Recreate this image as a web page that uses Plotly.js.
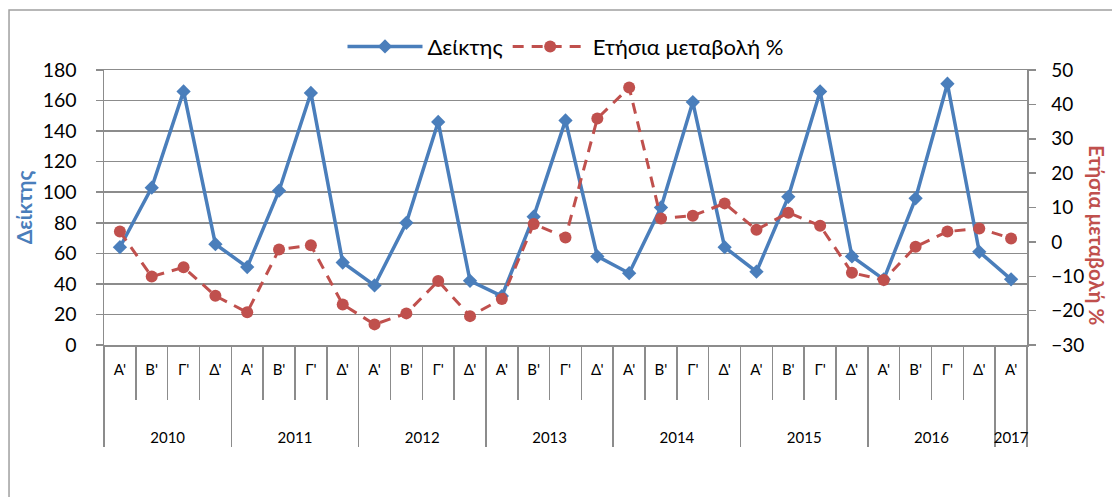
<!DOCTYPE html>
<html>
<head>
<meta charset="utf-8">
<script src="https://cdn.plot.ly/plotly-3.0.1.min.js"></script>
<style>html,body{margin:0;padding:0;background:#fff;}#chart{width:1112px;height:497px;}</style>
</head>
<body>
<div id="chart"></div>
<script>
var years = ['2010','2010','2010','2010','2011','2011','2011','2011','2012','2012','2012','2012',
             '2013','2013','2013','2013','2014','2014','2014','2014','2015','2015','2015','2015',
             '2016','2016','2016','2016','2017'];
var quarters = ["Α'","Β'","Γ'","Δ'","Α'","Β'","Γ'","Δ'","Α'","Β'","Γ'","Δ'",
                "Α'","Β'","Γ'","Δ'","Α'","Β'","Γ'","Δ'","Α'","Β'","Γ'","Δ'",
                "Α'","Β'","Γ'","Δ'","Α'"];
var indexValues = [64, 103, 166, 66, 51, 101, 165, 54, 39, 80, 146, 42,
                   32, 84, 147, 58, 47, 90, 159, 64, 48, 97, 166, 58,
                   43, 96, 171, 61, 43];
var annualChange = [3.0, -10.1, -7.4, -15.7, -20.5, -2.2, -1.0, -18.2, -24.0, -20.8, -11.4, -21.6,
                    -16.6, 5.2, 1.3, 35.9, 44.9, 6.8, 7.6, 11.2, 3.5, 8.5, 4.7, -9.0,
                    -11.1, -1.4, 3.0, 3.9, 1.0];

var FONT = 'Lato, "Open Sans", sans-serif';
var BLUE = '#4A7EBB';
var RED = '#C0504D';
var GRID = '#8c8c8c';

// year labels pushed down below the quarter labels
var yearCats = years.map(function (y) { return '<br><br><br>' + y; });

var traces = [
  {
    x: [yearCats, quarters], y: indexValues, name: 'Δείκτης', type: 'scatter', mode: 'lines+markers',
    line: {color: BLUE, width: 3.5},
    marker: {symbol: 'diamond', size: 11, color: BLUE},
    yaxis: 'y'
  },
  {
    x: [yearCats, quarters], y: annualChange, name: 'Ετήσια μεταβολή %', type: 'scatter', mode: 'lines+markers',
    line: {color: RED, width: 3, dash: '11px,8px'},
    marker: {symbol: 'circle', size: 12, color: RED},
    yaxis: 'y2'
  }
];

var layout = {
  width: 1112, height: 497,
  margin: {l: 104, r: 85, t: 70, b: 152},
  paper_bgcolor: '#fff', plot_bgcolor: '#fff',
  font: {family: FONT, color: '#000'},
  showlegend: true,
  legend: {
    orientation: 'h', x: 0.5, xanchor: 'center', y: 1.085, yanchor: 'middle',
    font: {family: FONT, size: 22, color: '#000'}, itemwidth: 75, bgcolor: 'rgba(0,0,0,0)'
  },
  xaxis: {
    type: 'multicategory', range: [-0.5, 28.5], autorange: false,
    showline: true, linecolor: GRID, linewidth: 1.5, mirror: true,
    ticks: 'outside', tickson: 'boundaries', ticklen: 53, tickcolor: GRID, tickwidth: 1.5,
    ticklabelstandoff: 10,
    showdividers: true, dividercolor: GRID, dividerwidth: 1.5,
    tickfont: {family: FONT, size: 15, color: '#000'},
    showgrid: false
  },
  yaxis: {
    range: [0, 180], dtick: 20, tick0: 0,
    showgrid: true, gridcolor: GRID, gridwidth: 1.5,
    zeroline: false,
    showline: true, linecolor: GRID, linewidth: 1.5,
    ticks: 'outside', ticklen: 7, tickcolor: GRID, tickwidth: 1.5,
    ticklabelstandoff: 15,
    tickfont: {family: FONT, size: 19.5, color: '#000'},
    title: {text: '<b>Δείκτης</b>', font: {family: FONT, size: 21, color: BLUE}, standoff: 4}
  },
  yaxis2: {
    overlaying: 'y', side: 'right',
    range: [-30, 50], dtick: 10, tick0: 0,
    showgrid: false, zeroline: false,
    showline: true, linecolor: GRID, linewidth: 1.5,
    ticks: 'outside', ticklen: 7, tickcolor: GRID, tickwidth: 1.5,
    ticklabelstandoff: 12,
    tickfont: {family: FONT, size: 19, color: '#000'}
  },
  annotations: [
    {
      text: '<b>Ετήσια μεταβολή %</b>', xref: 'paper', yref: 'paper', x: 1.0765, y: 0.398,
      xanchor: 'center', yanchor: 'middle', textangle: 90, showarrow: false,
      font: {family: FONT, size: 20.5, color: RED}
    }
  ],
  shapes: [
    {type: 'rect', xref: 'paper', yref: 'paper', x0: -0.1029, x1: 1.2, y0: -0.6, y1: 1.2182,
     line: {color: '#a0a0a0', width: 1.5}, fillcolor: 'rgba(0,0,0,0)', layer: 'below'}
  ]
};

Plotly.newPlot('chart', traces, layout, {displayModeBar: false, staticPlot: true});
</script>
</body>
</html>
